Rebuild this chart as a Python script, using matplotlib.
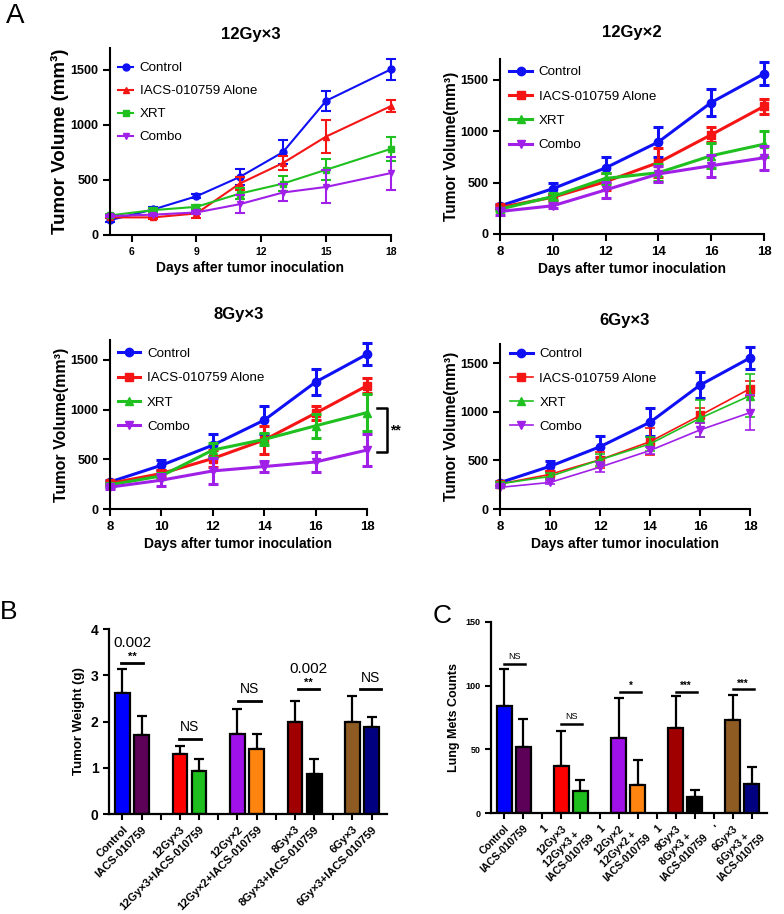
import matplotlib
matplotlib.use('Agg')
import matplotlib.pyplot as plt

plt.rcParams['font.family'] = ['Liberation Sans', 'DejaVu Sans']

# ---- panel A data: tumor volume (mm3), mean and error ----
group_names = ["Control", "IACS-010759 Alone", "XRT", "Combo"]
group_colors = ['#1010F5', '#F51515', '#1FC01F', '#A020E8']

days_12x3 = [5, 7, 9, 11, 13, 15, 18]
ctrl_12x3 = [135, 232, 352, 527, 753, 1220, 1506]
ctrl_12x3_err = [15, 20, 20, 75, 111, 90, 96]
iacs_12x3 = [160, 160, 196, 467, 654, 895, 1172]
iacs_12x3_err = [10, 15, 40, 60, 65, 153, 54]
xrt_12x3 = [178, 226, 256, 376, 467, 593, 783]
xrt_12x3_err = [15, 15, 20, 50, 66, 94, 106]
combo_12x3 = [172, 185, 205, 280, 386, 437, 563]
combo_12x3_err = [10, 10, 15, 80, 75, 150, 150]

days = [8, 10, 12, 14, 16, 18]
ctrl = [272, 440, 642, 894, 1277, 1557]
ctrl_err = [20, 52, 108, 144, 132, 112]
iacs = [258, 357, 508, 694, 964, 1240]
iacs_err = [20, 33, 82, 138, 73, 75]

xrt_12x2 = [241, 364, 540, 595, 760, 872]
xrt_12x2_err = [15, 30, 50, 80, 119, 126]
combo_12x2 = [219, 274, 428, 583, 663, 740]
combo_12x2_err = [30, 20, 78, 80, 107, 115]

xrt_8x3 = [243, 333, 593, 700, 837, 970]
xrt_8x3_err = [20, 30, 70, 60, 123, 190]
combo_8x3 = [220, 290, 383, 427, 473, 593]
combo_8x3_err = [15, 60, 135, 55, 105, 157]

xrt_6x3 = [260, 336, 507, 671, 935, 1168]
xrt_6x3_err = [20, 30, 60, 75, 190, 222]
combo_6x3 = [223, 274, 432, 603, 815, 993]
combo_6x3_err = [10, 15, 50, 40, 75, 178]

# ---- panel B / C data ----
bar_pos = [0, 1, 3, 4, 6, 7, 9, 10, 12, 13]
bar_colors = ['#0000FF', '#5C0058', '#FF0000', '#1DBE1D', '#A010E8',
              '#FF8410', '#A00000', '#000000', '#8E5B22', '#000080']
b_labels = ["Control", "IACS-010759", "", "12Gy×3", "12Gy×3+IACS-010759", "",
            "12Gy×2", "12Gy×2+IACS-010759", "", "8Gy×3", "8Gy×3+IACS-010759", "",
            "6Gy×3", "6Gy×3+IACS-010759"]
weight = [2.61, 1.71, 1.29, 0.93, 1.73, 1.41, 2.0, 0.87, 2.0, 1.88]
weight_top = [3.13, 2.12, 1.46, 1.2, 2.27, 1.74, 2.44, 1.18, 2.55, 2.1]

c_labels = ["Control", "IACS-010759", "1", "12Gy×3", "12Gy×3 +\nIACS-010759", "1",
            "12Gy×2", "12Gy×2 +\nIACS-010759", "1", "8Gy×3", "8Gy×3 +\nIACS-010759", "'",
            "6Gy×3", "6Gy×3 +\nIACS-010759"]
mets = [84, 52, 37, 17.2, 58.7, 22, 66.5, 12.8, 72.8, 22.7]
mets_top = [112.7, 74, 64.7, 26, 90, 41.7, 91.8, 18.3, 92.6, 36.3]

fig = plt.figure(figsize=(7.84, 9.14), dpi=100)


def clean(ax, lw=1.5):
    for s in ['top', 'right']:
        ax.spines[s].set_visible(False)
    for s in ['left', 'bottom']:
        ax.spines[s].set_linewidth(lw)


def growth(rect, x, series, markers, lws, ms, title, title_pad, ylabel, ylsize,
           xlim, xticks, xtsize, leg_xy, leg_hl, leg_sp):
    ax = fig.add_axes(rect)
    for (vals, err), name, c, m, lw in zip(series, group_names, group_colors, markers, lws):
        ax.errorbar(x, vals, yerr=err, fmt='none', ecolor=c, elinewidth=lw,
                    capsize=3.5, capthick=lw, clip_on=False)
        ax.plot(x, vals, color=c, marker=m, lw=lw, ms=ms, label=name, clip_on=False)
    clean(ax)
    ax.set_xlim(*xlim)
    ax.set_ylim(0, 1700)
    ax.set_xticks(xticks)
    ax.set_yticks([0, 500, 1000, 1500])
    ax.tick_params(width=1.5, length=5, labelsize=9)
    ax.tick_params(axis='x', labelsize=xtsize)
    for t in ax.get_xticklabels() + ax.get_yticklabels():
        t.set_fontweight('bold')
    ax.set_title(title, fontsize=12, fontweight='bold', pad=title_pad)
    ax.set_xlabel("Days after tumor inoculation", fontsize=10, fontweight='bold', labelpad=3)
    ax.set_ylabel(ylabel, fontsize=ylsize, fontweight='bold', labelpad=1)
    ax.legend(loc='upper left', bbox_to_anchor=leg_xy, frameon=False, fontsize=9.6,
              borderpad=0, borderaxespad=0, labelspacing=leg_sp, handlelength=leg_hl,
              handletextpad=0.5)
    return ax


growth([0.1403, 0.7429, 0.3584, 0.2046], days_12x3,
       [(ctrl_12x3, ctrl_12x3_err), (iacs_12x3, iacs_12x3_err),
        (xrt_12x3, xrt_12x3_err), (combo_12x3, combo_12x3_err)],
       ['o', '^', 's', 'v'], [1.5] * 4, 5, "12Gy×3", 6.5,
       "Tumor Volume (mm³)", 13.5, (5, 18), [6, 9, 12, 15, 18], 7.5, (0.03, 0.925), 1.1, 0.8)

growth([0.6378, 0.7440, 0.3367, 0.1915], days,
       [(ctrl, ctrl_err), (iacs, iacs_err), (xrt_12x2, xrt_12x2_err), (combo_12x2, combo_12x2_err)],
       ['o', 's', '^', 'v'], [2.2] * 4, 6, "12Gy×2", 16,
       "Tumor Volume(mm³)", 11.2, (8, 18), [8, 10, 12, 14, 16, 18], 9.5, (0.035, 0.96), 1.7, 0.9)

ax3 = growth([0.1403, 0.4431, 0.3278, 0.1849], days,
             [(ctrl, ctrl_err), (iacs, iacs_err), (xrt_8x3, xrt_8x3_err), (combo_8x3, combo_8x3_err)],
             ['o', 's', '^', 'v'], [2.2] * 4, 6, "8Gy×3", 15,
             "Tumor Volume(mm³)", 11.5, (8, 18), [8, 10, 12, 14, 16, 18], 9.5, (0.03, 0.955), 1.7, 0.9)
# significance bracket XRT vs Combo
ax3.plot([18.39, 18.78, 18.78, 18.39], [1020, 1020, 570, 570], color='black', lw=1.8, clip_on=False)
ax3.text(18.9, 795, "**", fontsize=10, fontweight='bold', va='center', ha='left')

growth([0.6378, 0.4431, 0.3189, 0.1805], days,
       [(ctrl, ctrl_err), (iacs, iacs_err), (xrt_6x3, xrt_6x3_err), (combo_6x3, combo_6x3_err)],
       ['o', 's', '^', 'v'], [2.2, 1.2, 1.2, 1.2], 6, "6Gy×3", 14,
       "Tumor Volume(mm³)", 11.2, (8, 18), [8, 10, 12, 14, 16, 18], 9.5, (0.04, 0.975), 1.7, 0.88)


def bar_panel(rect, vals, tops, labels, ylim, yticks, ytsize, ylabel, ylsize, xtsize):
    ax = fig.add_axes(rect)
    up = [t - v for t, v in zip(tops, vals)]
    ax.errorbar(bar_pos, vals, yerr=[[0] * len(vals), up], fmt='none', ecolor='black',
                elinewidth=1.6, capsize=3.5, capthick=1.6, zorder=1)
    ax.bar(bar_pos, vals, width=0.77, color=bar_colors, edgecolor='black', linewidth=1.6, zorder=2)
    clean(ax, 1.6)
    ax.set_xlim(-0.7, 13.8)
    ax.set_ylim(*ylim)
    ax.set_yticks(yticks)
    ax.set_xticks(range(len(labels)))
    ax.set_xticklabels(labels, rotation=45, ha='right', rotation_mode='anchor',
                       fontsize=xtsize, fontweight='bold', multialignment='center')
    ax.tick_params(width=1.5, length=4)
    ax.tick_params(axis='y', labelsize=ytsize)
    for t in ax.get_yticklabels():
        t.set_fontweight('bold')
    ax.set_ylabel(ylabel, fontsize=ylsize, fontweight='bold')
    return ax


axb = bar_panel([0.1390, 0.1094, 0.3546, 0.2024], weight, weight_top, b_labels,
                (0, 4), [0, 1, 2, 3, 4], 10, "Tumor Weight (g)", 9.5, 8)
for x0, x1, y, star, pval in [(-0.05, 1.08, 3.27, "**", "0.002"), (2.94, 4.09, 1.62, "NS", None),
                              (6.04, 7.21, 2.45, "NS", None), (9.15, 10.28, 2.7, "**", "0.002"),
                              (12.37, 13.5, 2.7, "NS", None)]:
    axb.plot([x0, x1], [y, y], color='black', lw=2)
    xm = (x0 + x1) / 2
    if star == "NS":
        axb.text(xm, y + 0.1, star, fontsize=10, ha='center', va='bottom')
    else:
        axb.text(xm, y + 0.03, star, fontsize=8, fontweight='bold', ha='center', va='bottom')
    if pval:
        axb.text(xm, y + 0.43, pval, fontsize=11, ha='center', va='center')

axc = bar_panel([0.6263, 0.1105, 0.3520, 0.2090], mets, mets_top, c_labels,
                (0, 150), [0, 50, 100, 150], 6.5, "Lung Mets Counts", 9, 7.5)
for x0, x1, y, star in [(0, 1.1, 117, "NS"), (3.0, 4.1, 69.7, "NS"), (6.1, 7.2, 95.2, "*"),
                        (9.0, 10.1, 95.2, "***"), (12.0, 13.1, 97, "***")]:
    axc.plot([x0, x1], [y, y], color='black', lw=1.8)
    if star == "NS":
        axc.text((x0 + x1) / 2, y + 2.5, star, fontsize=6.5, ha='center', va='bottom')
    else:
        axc.text((x0 + x1) / 2, y + 0.5, star, fontsize=7, fontweight='bold', ha='center', va='bottom')

fig.text(0.008, 0.997, "A", fontsize=20, va='top')
fig.text(0.0, 0.343, "B", fontsize=19, va='top')
fig.text(0.552, 0.339, "C", fontsize=19, va='top')

fig.savefig('out.png', dpi=100)
